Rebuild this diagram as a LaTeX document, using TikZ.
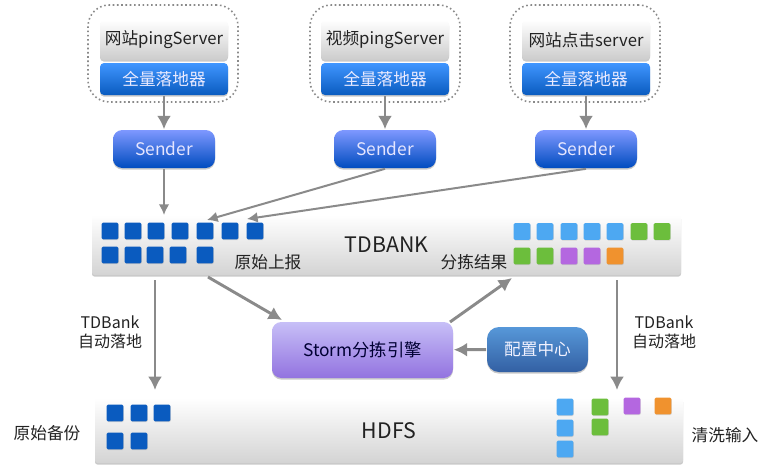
\documentclass[tikz,border=0pt]{standalone}
\usepackage{fontspec}
\setmainfont{Noto Sans CJK SC}
\usetikzlibrary{arrows.meta}
\usetikzlibrary{shadows}
\usepackage{xcolor}
\definecolor{mygrey}{HTML}{8A8A8A}
\definecolor{mytext}{HTML}{222222}
\definecolor{myblue}{HTML}{0A5BBF}
\definecolor{mylightblue}{HTML}{4DA8F2}
\definecolor{mygreen}{HTML}{6CBE3C}
\definecolor{mypurple}{HTML}{B467E0}
\definecolor{myorange}{HTML}{F0922E}
\tikzset{
  >=latex,
  soft shadow/.style={drop shadow={shadow xshift=0pt,shadow yshift=-1.2pt,opacity=0.3,fill=black!70}},
  box/.style={inner sep=0,outer sep=0.6,rounded corners=3,soft shadow},
  group/.style={draw=mygrey,dotted,line width=1.2,rounded corners=16,minimum width=112.5pt,minimum height=72.75pt},
  server/.style={box,top color=white,bottom color=black!20,text=mytext,minimum width=96pt,minimum height=30pt,font=\fontsize{12.5}{14}\selectfont},
  lander/.style={box,top color=blue!55!cyan!75!white,bottom color=myblue,text=blue!8,minimum width=96pt,minimum height=24pt,font=\fontsize{12.5}{14}\selectfont},
  sender/.style={box,rounded corners=7,top color=blue!45!white!90!cyan,bottom color=blue!60!cyan!75!black,text=blue!10,minimum width=76.5pt,minimum height=28.5pt,font=\fontsize{13}{15}\selectfont},
  bar/.style={box,rounded corners=2,top color=white,bottom color=black!17,text=mytext,font=\fontsize{16}{18}\selectfont},
  engine/.style={box,rounded corners=7,top color=violet!25!blue!25!white,bottom color=violet!45!blue!55!white,text=blue!20!black,minimum width=135.75pt,minimum height=42pt,font=\fontsize{13}{15}\selectfont},
  config/.style={box,rounded corners=9,top color=cyan!50!blue!60!white!85!black,bottom color=cyan!40!blue!55!black!80,text=blue!5,minimum width=75.75pt,minimum height=33.75pt,font=\fontsize{12.5}{14}\selectfont},
  sq/.style={fill=#1,inner sep=0,minimum size=12.5pt,rounded corners=1,drop shadow={shadow xshift=0.4pt,shadow yshift=-0.6pt,opacity=0.25}},
  label/.style={text=mytext,font=\fontsize{12.5}{14}\selectfont},
  connect arrow/.style={-{Latex[length=10pt,width=10.5pt]},line width=2.2pt,mygrey},
  thin arrow/.style={-{Latex[length=8pt,width=8pt]},line width=1.5pt,mygrey}
}

\begin{document}
\begin{tikzpicture}[x=0.75pt,y=-0.75pt]
  \useasboundingbox (0,0) rectangle (773,469);

  % sources
  \node[group] (grp1) at (163,53.5) {};
  \node[group] (grp2) at (385,53.5) {};
  \node[group] (grp3) at (585,53.5) {};
  \node[server] (srv1) at (164,40) {网站pingServer};
  \node[server] (srv2) at (385,40) {视频pingServer};
  \node[server] (srv3) at (586,40) {网站点击server};
  \node[lander] (land1) at (164,79) {全量落地器};
  \node[lander] (land2) at (385,79) {全量落地器};
  \node[lander] (land3) at (586,79) {全量落地器};
  \node[sender] (send1) at (164,149) {Sender};
  \node[sender] (send2) at (385,149) {Sender};
  \node[sender] (send3) at (586,149) {Sender};

  % bars
  \node[bar,minimum width=441.75pt,minimum height=45pt] (tdbank) at (386.5,245) {TDBANK};
  \node[bar,minimum width=441pt,minimum height=48.75pt] (hdfs) at (389,430.5) {HDFS};

  \foreach \x [count=\i] in {110,133,156,180,205,230,255}
    \node[sq=myblue] (raw1\i) at (\x,231) {};
  \foreach \x [count=\i] in {110,133,155,178,205}
    \node[sq=myblue] (raw2\i) at (\x,255) {};
  \foreach \x/\c [count=\i] in {522/mylightblue,545/mylightblue,569/mylightblue,592/mylightblue,615/mylightblue,639/mygreen,662/mygreen}
    \node[sq=\c] (res1\i) at (\x,231.5) {};
  \foreach \x/\c [count=\i] in {522/mygreen,545/mygreen,569/mypurple,592/mypurple,615/myorange}
    \node[sq=\c] (res2\i) at (\x,256) {};
  \node[label] (rawrep) at (268,262) {原始上报};
  \node[label] (sortres) at (474,262) {分拣结果};

  \foreach \x/\y [count=\i] in {115/413,139/413,162/413,115/441,139/441}
    \node[sq=myblue] (bak\i) at (\x,\y) {};
  \foreach \x/\y/\c [count=\i] in {565/407/mylightblue,565/428/mylightblue,565/449/mylightblue,600/407/mygreen,600/427/mygreen,632/406/mypurple,663/406/myorange}
    \node[sq=\c] (cln\i) at (\x,\y) {};
  \node[label] (rawbak) at (47,433) {原始备份};
  \node[label] (clnin) at (725,435) {清洗输入};

  % engine
  \node[engine] (storm) at (362.5,350) {Storm分拣引擎};
  \node[config] (conf) at (537.5,349.5) {配置中心};

  \coordinate (in1) at (164,215);
  \coordinate (in2) at (207,220);
  \coordinate (in3) at (247,219);
  \coordinate (out1) at (208,277);
  \coordinate (tip1) at (282,320);
  \coordinate (ret1) at (450,322);
  \coordinate (ret2) at (512,278);
  \coordinate (dl1) at (155,280);
  \coordinate (dl2) at (155,390);
  \coordinate (dr1) at (617,280);
  \coordinate (dr2) at (617,390);

  \draw[connect arrow] (land1) -- (send1);
  \draw[connect arrow] (land2) -- (send2);
  \draw[connect arrow] (land3) -- (send3);
  \draw[thin arrow] (send1) -- (in1);
  \draw[thin arrow] (send2.south) -- (in2);
  \draw[thin arrow] (send3.south) -- (in3);
  \draw[connect arrow] (out1) -- (tip1);
  \draw[connect arrow] (ret1) -- (ret2);
  \draw[connect arrow] (conf) -- (storm);
  \draw[connect arrow] (dl1) -- (dl2);
  \draw[connect arrow] (dr1) -- (dr2);
  \node[label,align=center,font=\fontsize{12}{14.5}\selectfont] (autol) at (110,332) {TDBank\\自动落地};
  \node[label,align=center,font=\fontsize{12}{14.5}\selectfont] (autor) at (664,332) {TDBank\\自动落地};

\end{tikzpicture}
\end{document}
